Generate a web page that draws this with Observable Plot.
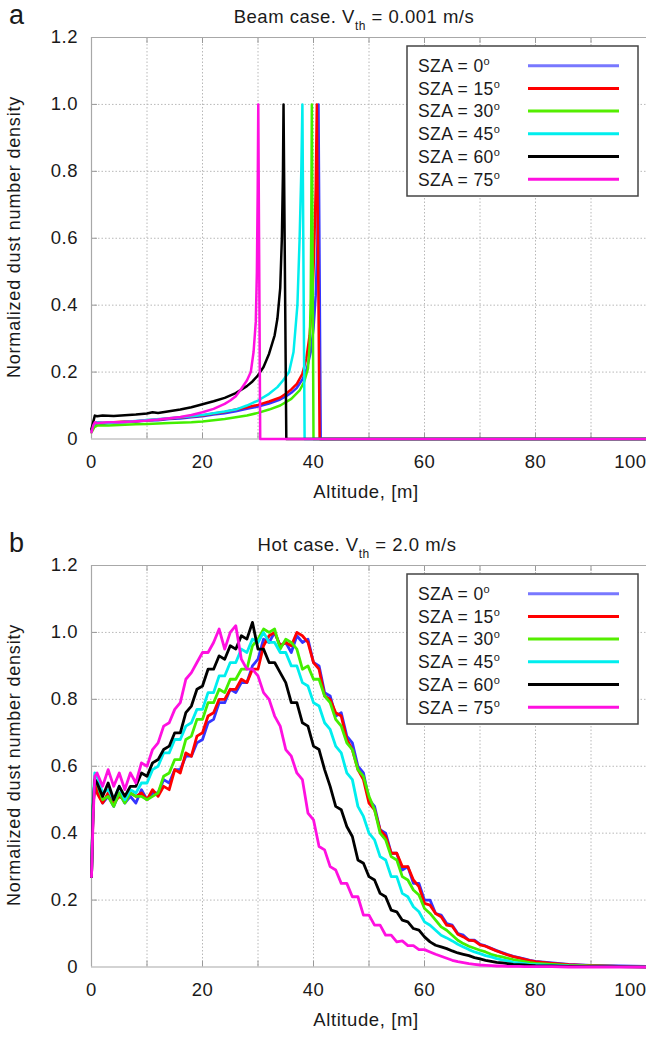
<!DOCTYPE html>
<html><head><meta charset="utf-8">
<script src="https://cdn.jsdelivr.net/npm/d3@7"></script>
<script src="https://cdn.jsdelivr.net/npm/@observablehq/plot@0.6"></script>
<style>
html,body{margin:0;padding:0;background:#fff;overflow:hidden;}
#wrap{position:relative;width:646px;height:1037px;overflow:hidden;background:#fff;}
.panel{position:absolute;left:0;}
#overlay{position:absolute;left:0;top:0;pointer-events:none;}
</style></head>
<body><div id="wrap"><div class="panel" id="pa" style="top:0px"></div><div class="panel" id="pb" style="top:528px"></div></div>
<script>
// ---------- labels & styles ----------
const szaLabels = ["0", "15", "30", "45", "60", "75"];
const lineColors = ["#3535ff", "#ff0000", "#44ee00", "#00eeee", "#000000", "#ff10e0"];
const legendColors = ["#7878ff", "#ff0000", "#55ee00", "#00eeee", "#000000", "#ff10e0"];
const xGridTicks = [10, 20, 30, 40, 50, 60, 70, 80, 90];
const xLabelTicks = [0, 20, 40, 60, 80];
const xEdgeLabel = [100];
const yTicks = [0, 0.2, 0.4, 0.6, 0.8, 1.0, 1.2];
const yGridTicks = [0.2, 0.4, 0.6, 0.8, 1.0];

// ---------- panel a: beam case ----------
const beamAlt0 = [0,0.5,1,2,4,6,8,10,12,14,16,18,20,22,24,26,28,30,32,34,35,36,37,38,38.8,39.5,40,40.4,40.7,40.9,41.3,100];
const beamDen0 = [0.025,0.04,0.047,0.045,0.049,0.05,0.052,0.055,0.056,0.06,0.061,0.065,0.068,0.073,0.077,0.083,0.09,0.097,0.106,0.118,0.127,0.138,0.153,0.178,0.21,0.26,0.33,0.43,0.58,1.0,0,0];
const beamAlt15 = [0,0.5,1,2,4,6,8,10,12,14,16,18,20,22,24,26,28,30,32,34,35,36,37,38,38.7,39.3,39.8,40.1,40.4,40.6,41.1,100];
const beamDen15 = [0.028,0.045,0.05,0.048,0.05,0.052,0.053,0.056,0.058,0.061,0.064,0.067,0.07,0.076,0.081,0.088,0.095,0.102,0.112,0.124,0.135,0.148,0.165,0.195,0.24,0.31,0.42,0.55,0.75,1.0,0,0];
const beamAlt30 = [0,0.5,1,3,5,8,10,14,18,20,24,28,30,32,34,36,37.5,38.3,39,39.3,39.5,39.6,39.7,40.0,100];
const beamDen30 = [0.02,0.035,0.04,0.04,0.042,0.044,0.045,0.048,0.05,0.052,0.06,0.07,0.078,0.088,0.1,0.12,0.145,0.17,0.21,0.28,0.42,0.65,1.0,0,0];
const beamAlt45 = [0,0.5,1,3,5,8,10,14,18,20,24,26,28,30,32,33.5,34.5,35.6,36.4,37.1,37.5,37.8,38.0,38.4,100];
const beamDen45 = [0.03,0.045,0.05,0.048,0.05,0.054,0.057,0.062,0.068,0.072,0.082,0.088,0.1,0.115,0.135,0.155,0.175,0.2,0.26,0.4,0.6,0.8,1.0,0,0];
const beamAlt60 = [0,0.3,0.6,1,2,4,6,8,10,11,12,14,16,18,20,22,24,26,28,29,30,31,32,33,33.5,34,34.3,34.5,34.6,35.1,100];
const beamDen60 = [0.03,0.05,0.07,0.068,0.07,0.069,0.071,0.073,0.076,0.08,0.078,0.083,0.088,0.095,0.104,0.113,0.123,0.137,0.158,0.172,0.19,0.215,0.255,0.31,0.36,0.45,0.6,0.8,1.0,0,0];
const beamAlt75 = [0,0.3,0.6,1,3,5,8,10,12,14,16,18,20,22,24,25,26,27,28,28.7,29.2,29.6,29.8,29.95,30.05,30.4,100];
const beamDen75 = [0.02,0.04,0.05,0.048,0.05,0.05,0.053,0.055,0.058,0.062,0.066,0.072,0.08,0.09,0.105,0.115,0.128,0.15,0.175,0.2,0.26,0.35,0.5,0.75,1.0,0,0];

// ---------- panel b: hot case ----------
const hotAlt = [0,0.3,0.6,
 1,2,3,4,5,6,7,8,9,10,
 11,12,13,14,15,16,17,18,19,20,
 21,22,23,24,25,26,27,28,29,30,
 31,32,33,34,35,36,37,38,39,40,
 41,42,43,44,45,46,47,48,49,50,
 51,52,53,54,55,56,57,58,59,60,
 61,62,63,64,65,66,67,68,69,70,
 71,72,73,74,75,76,77,78,79,80,
 83,86,90,95,100];
const hotDen0 = [0.27,0.49,0.56,
 0.53,0.49,0.51,0.48,0.52,0.49,0.51,0.49,0.53,0.50,
 0.52,0.52,0.56,0.55,0.59,0.59,0.63,0.63,0.67,0.68,
 0.73,0.74,0.79,0.79,0.83,0.82,0.85,0.85,0.90,0.92,
 0.98,0.97,1.00,0.96,0.97,0.94,0.99,0.97,0.98,0.91,
 0.90,0.82,0.81,0.75,0.76,0.69,0.67,0.60,0.58,0.50,
 0.48,0.41,0.40,0.34,0.34,0.29,0.30,0.25,0.25,0.20,
 0.20,0.16,0.155,0.13,0.125,0.10,0.095,0.08,0.08,0.068,
 0.063,0.056,0.049,0.043,0.037,0.032,0.028,0.024,0.02,0.017,
 0.012,0.008,0.005,0.003,0.002];
const hotDen15 = [0.27,0.48,0.55,
 0.52,0.49,0.52,0.49,0.51,0.50,0.52,0.51,0.52,0.50,
 0.53,0.51,0.54,0.53,0.59,0.58,0.64,0.63,0.69,0.70,
 0.75,0.76,0.80,0.80,0.83,0.83,0.86,0.85,0.89,0.89,
 0.96,0.99,1.00,0.96,0.97,0.96,1.00,0.99,0.97,0.91,
 0.89,0.81,0.80,0.76,0.75,0.68,0.65,0.59,0.56,0.49,
 0.47,0.41,0.39,0.34,0.34,0.30,0.30,0.26,0.24,0.19,
 0.185,0.16,0.15,0.125,0.122,0.098,0.09,0.08,0.078,0.066,
 0.062,0.055,0.048,0.042,0.036,0.031,0.027,0.023,0.019,0.016,
 0.011,0.007,0.004,0.002,0.001];
const hotDen30 = [0.27,0.50,0.56,
 0.55,0.50,0.51,0.48,0.52,0.49,0.52,0.51,0.51,0.50,
 0.51,0.52,0.57,0.58,0.62,0.62,0.68,0.69,0.74,0.74,
 0.79,0.79,0.83,0.82,0.86,0.86,0.89,0.89,0.96,0.98,
 1.01,1.00,1.01,0.95,0.98,0.97,0.95,0.89,0.90,0.86,
 0.86,0.81,0.79,0.74,0.72,0.67,0.65,0.59,0.57,0.51,
 0.47,0.40,0.38,0.33,0.32,0.27,0.26,0.23,0.215,0.175,
 0.16,0.14,0.12,0.11,0.095,0.08,0.07,0.062,0.056,0.05,
 0.045,0.038,0.033,0.03,0.026,0.022,0.019,0.016,0.013,0.011,
 0.008,0.005,0.003,0.002,0.001];
const hotDen45 = [0.27,0.50,0.58,
 0.57,0.52,0.53,0.50,0.54,0.50,0.53,0.52,0.55,0.55,
 0.59,0.60,0.64,0.64,0.68,0.68,0.72,0.73,0.77,0.77,
 0.82,0.82,0.87,0.87,0.91,0.91,0.95,0.94,0.98,0.97,
 1.00,0.97,0.97,0.94,0.94,0.90,0.90,0.85,0.84,0.79,
 0.78,0.73,0.71,0.66,0.64,0.58,0.56,0.48,0.45,0.40,
 0.38,0.33,0.32,0.27,0.27,0.22,0.21,0.18,0.165,0.135,
 0.125,0.11,0.095,0.087,0.078,0.068,0.06,0.052,0.045,0.04,
 0.034,0.03,0.025,0.021,0.018,0.014,0.012,0.01,0.008,0.007,
 0.005,0.003,0.002,0.001,0.001];
const hotDen60 = [0.27,0.48,0.56,
 0.55,0.51,0.55,0.50,0.54,0.51,0.54,0.54,0.58,0.57,
 0.61,0.62,0.65,0.66,0.70,0.70,0.76,0.78,0.83,0.84,
 0.89,0.89,0.93,0.92,0.96,0.95,0.99,0.98,1.03,0.95,
 0.95,0.91,0.91,0.88,0.85,0.79,0.79,0.73,0.72,0.66,
 0.65,0.59,0.54,0.48,0.47,0.42,0.39,0.32,0.31,0.27,
 0.26,0.22,0.21,0.17,0.165,0.14,0.135,0.115,0.11,0.09,
 0.075,0.065,0.06,0.055,0.048,0.042,0.038,0.034,0.028,0.024,
 0.02,0.017,0.014,0.012,0.01,0.008,0.007,0.006,0.005,0.004,
 0.003,0.002,0.001,0.001,0];
const hotDen75 = [0.27,0.45,0.57,
 0.58,0.54,0.59,0.54,0.58,0.53,0.58,0.55,0.61,0.60,
 0.65,0.67,0.72,0.73,0.77,0.79,0.86,0.88,0.91,0.94,
 0.94,0.97,1.01,0.95,1.00,1.02,0.92,0.89,0.89,0.87,
 0.82,0.80,0.75,0.72,0.65,0.63,0.58,0.56,0.46,0.44,
 0.36,0.35,0.30,0.29,0.25,0.25,0.21,0.21,0.155,0.155,
 0.125,0.125,0.095,0.095,0.075,0.078,0.064,0.064,0.052,0.052,
 0.045,0.038,0.032,0.026,0.02,0.016,0.013,0.01,0.008,0.006,
 0.005,0.004,0.003,0.003,0.002,0.002,0.002,0.001,0.001,0.001,
 0.001,0,0,0,0];

const beamSeries = [[beamAlt0,beamDen0],[beamAlt15,beamDen15],[beamAlt30,beamDen30],[beamAlt45,beamDen45],[beamAlt60,beamDen60],[beamAlt75,beamDen75]];
const hotSeries = [hotDen0,hotDen15,hotDen30,hotDen45,hotDen60,hotDen75].map(d => [hotAlt, d]);

const FONT = "'Liberation Sans', Arial, Helvetica, sans-serif";
const W = 646, H = 528, ML = 91, MR = 0, MT = 37, MB = 89.5;
const PW = W - ML - MR, PH = H - MT - MB;

function makePanel(series, sw) {
  const lines = series.map(([xs, ys], i) =>
    Plot.line(xs.map((x, j) => ({alt: x, den: ys[j]})), {x: "alt", y: "den", stroke: lineColors[i], strokeWidth: sw, strokeLinejoin: "round"}));
  return Plot.plot({
    width: W, height: H,
    marginLeft: ML, marginRight: MR, marginTop: MT, marginBottom: MB,
    x: {domain: [0, 100], label: null},
    y: {domain: [0, 1.2], label: null},
    style: {fontFamily: FONT, fontSize: "18.5px", letterSpacing: "0.5px", color: "#1a1a1a", background: "transparent", overflow: "visible"},
    marks: [
      Plot.gridX(xGridTicks, {stroke: "#b8b8b8", strokeOpacity: 1, strokeDasharray: "1.5,2"}),
      Plot.gridY(yGridTicks, {stroke: "#b8b8b8", strokeOpacity: 1, strokeDasharray: "1.5,2"}),
      Plot.ruleX(xGridTicks, {x: d => d, insetTop: PH - 6, stroke: "#999"}),
      Plot.ruleX(xGridTicks, {x: d => d, insetBottom: PH - 6, stroke: "#999"}),
      Plot.ruleY(yGridTicks, {y: d => d, insetRight: PW - 6, stroke: "#999"}),
      Plot.ruleY([0, 1.2], {y: d => d, stroke: "#a8a8a8", strokeWidth: 1.2}),
      Plot.ruleX([0], {x: d => d, stroke: "#a8a8a8", strokeWidth: 1.2}),
      ...lines,
      Plot.axisX(xLabelTicks, {tickSize: 0, tickPadding: 15.5, tickFormat: d => String(d), label: null}),
      Plot.text(xEdgeLabel, {x: d => d, text: d => String(d), frameAnchor: "bottom", lineAnchor: "top", dy: 15.5, textAnchor: "end"}),
      Plot.axisY(yTicks, {tickSize: 0, tickPadding: 13.5, tickFormat: d => d === 0 ? "0" : d.toFixed(1), label: null})
    ]
  });
}

document.getElementById("pa").appendChild(makePanel(beamSeries, 2.5));
document.getElementById("pb").appendChild(makePanel(hotSeries, 2.8));

// ---------- overlay: panel letters, titles, axis titles, legends ----------
const ov = d3.select("#wrap").append("svg").attr("id", "overlay").attr("width", 646).attr("height", 1037)
  .style("font-family", FONT).style("fill", "#1a1a1a");

function decorate(off, letter, titlePre, titlePost, titleX) {
  ov.append("text").attr("x", 9).attr("y", off + 24).attr("font-size", 27).text(letter);
  const t = ov.append("text").attr("x", titleX).attr("y", off + 22.7).attr("text-anchor", "middle")
    .attr("font-size", 18.5).attr("letter-spacing", "0.5px");
  t.append("tspan").text(titlePre);
  t.append("tspan").attr("font-size", 12).attr("dy", 7.5).text("th");
  t.append("tspan").attr("dy", -7.5).text(titlePost);
  ov.append("text").attr("x", 366).attr("y", off + 498).attr("text-anchor", "middle")
    .attr("font-size", 18.5).attr("letter-spacing", "0.6px").text("Altitude, [m]");
  ov.append("text").attr("transform", `translate(20,${off + 237}) rotate(-90)`).attr("text-anchor", "middle")
    .attr("font-size", 18).attr("letter-spacing", "0.8px").text("Normalized dust number density");
  // legend
  ov.append("rect").attr("x", 407).attr("y", off + 46).attr("width", 231).attr("height", 150)
    .attr("fill", "#fff").attr("stroke", "#444").attr("stroke-width", 1.5);
  szaLabels.forEach((s, i) => {
    const cy = off + 65.7 + 22.7 * i;
    const tx = ov.append("text").attr("x", 418).attr("y", cy + 6.3).attr("font-size", 17.5).attr("letter-spacing", "0.4px");
    tx.append("tspan").text(`SZA = ${s}`);
    tx.append("tspan").attr("font-size", 11).attr("dy", -7).text("o");
    ov.append("line").attr("x1", 528).attr("x2", 619).attr("y1", cy).attr("y2", cy)
      .attr("stroke", legendColors[i]).attr("stroke-width", 3);
  });
}
decorate(0, "a", "Beam case. V", " = 0.001 m/s", 354);
decorate(528, "b", "Hot case. V", " = 2.0 m/s", 357);
</script>
</body></html>
